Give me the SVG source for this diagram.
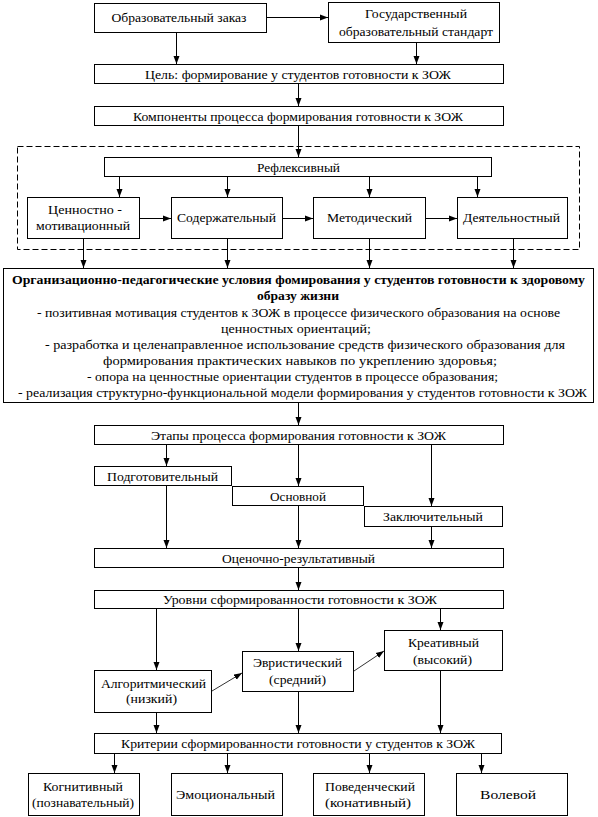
<svg xmlns="http://www.w3.org/2000/svg" width="598" height="817" viewBox="0 0 598 817">
<style>
.b{fill:#fff;stroke:#000;stroke-width:1}
.d{fill:none;stroke:#000;stroke-width:1;stroke-dasharray:6 3}
text{font-family:"Liberation Serif","Times New Roman",serif;font-size:13.5px;fill:#000;text-anchor:middle}
.bold{font-weight:bold}
.c line{stroke:#000;stroke-width:1;marker-end:url(#ah)}
.c line.t{stroke-width:0.8}
</style>
<defs>
<marker id="ah" markerUnits="userSpaceOnUse" markerWidth="8" markerHeight="7" refX="8" refY="3.5" orient="auto">
<path d="M0,0.5 L8,3.5 L0,6.5 z" fill="#000"/>
</marker>
</defs>
<rect width="598" height="817" fill="#fff"/>
<rect class="d" x="17.5" y="146.5" width="562" height="103"/>
<g class="c">
<line x1="267" y1="17.5" x2="328" y2="17.5"/>
<line x1="176.5" y1="33" x2="176.5" y2="64"/>
<line x1="416.5" y1="43" x2="416.5" y2="64"/>
<line x1="298.5" y1="84" x2="298.5" y2="106"/>
<line x1="298.5" y1="126" x2="298.5" y2="157"/>
<line x1="119.5" y1="177" x2="119.5" y2="197"/>
<line x1="227.5" y1="177" x2="227.5" y2="197"/>
<line x1="369.5" y1="177" x2="369.5" y2="197"/>
<line x1="477.5" y1="177" x2="477.5" y2="197"/>
<line x1="140" y1="218.5" x2="171" y2="218.5"/>
<line x1="283" y1="218.5" x2="313" y2="218.5"/>
<line x1="426" y1="218.5" x2="457" y2="218.5"/>
<line x1="83.5" y1="239" x2="83.5" y2="268"/>
<line x1="227.5" y1="239" x2="227.5" y2="268"/>
<line x1="369.5" y1="239" x2="369.5" y2="268"/>
<line x1="513.5" y1="239" x2="513.5" y2="268"/>
<line x1="298.5" y1="403" x2="298.5" y2="425"/>
<line x1="166.5" y1="445" x2="166.5" y2="466"/>
<line x1="298.5" y1="445" x2="298.5" y2="486"/>
<line x1="431.5" y1="445" x2="431.5" y2="506"/>
<line x1="166.5" y1="486" x2="166.5" y2="548"/>
<line x1="298.5" y1="506" x2="298.5" y2="548"/>
<line x1="431.5" y1="527" x2="431.5" y2="548"/>
<line x1="298.5" y1="568" x2="298.5" y2="590"/>
<line x1="156.5" y1="609" x2="156.5" y2="670"/>
<line x1="298.5" y1="609" x2="298.5" y2="651"/>
<line x1="440.5" y1="609" x2="440.5" y2="630"/>
<line class="t" x1="212" y1="691" x2="242" y2="673"/>
<line class="t" x1="354" y1="671" x2="384" y2="651"/>
<line x1="156.5" y1="713" x2="156.5" y2="733"/>
<line x1="298.5" y1="692" x2="298.5" y2="733"/>
<line x1="440.5" y1="671" x2="440.5" y2="733"/>
<line x1="114.5" y1="754" x2="114.5" y2="773"/>
<line x1="227.5" y1="754" x2="227.5" y2="773"/>
<line x1="369.5" y1="754" x2="369.5" y2="773"/>
<line x1="481.5" y1="754" x2="481.5" y2="773"/>
</g>
<g id="zakaz"><rect class="b" x="94.5" y="3.5" width="172" height="29"/><text x="179" y="22" textLength="135" lengthAdjust="spacingAndGlyphs">Образовательный заказ</text></g>
<g id="standart"><rect class="b" x="328.5" y="2.5" width="171" height="40"/><text x="416" y="18" textLength="102" lengthAdjust="spacingAndGlyphs">Государственный</text><text x="416" y="36" textLength="154" lengthAdjust="spacingAndGlyphs">образовательный стандарт</text></g>
<g id="tsel"><rect class="b" x="94.5" y="64.5" width="409" height="19"/><text x="298" y="79" textLength="306" lengthAdjust="spacingAndGlyphs">Цель: формирование у студентов готовности к ЗОЖ</text></g>
<g id="komponenty"><rect class="b" x="94.5" y="106.5" width="409" height="19"/><text x="298" y="121" textLength="330" lengthAdjust="spacingAndGlyphs">Компоненты процесса формирования готовности к ЗОЖ</text></g>
<g id="refl"><rect class="b" x="104.5" y="157.5" width="387" height="19"/><text x="298.5" y="172" textLength="83" lengthAdjust="spacingAndGlyphs">Рефлексивный</text></g>
<g id="cennost"><rect class="b" x="27.5" y="197.5" width="112" height="41"/><text x="85" y="214" textLength="74" lengthAdjust="spacingAndGlyphs">Ценностно -</text><text x="83" y="230" textLength="94" lengthAdjust="spacingAndGlyphs">мотивационный</text></g>
<g id="soderzh"><rect class="b" x="171.5" y="197.5" width="111" height="41"/><text x="226.5" y="222" textLength="99" lengthAdjust="spacingAndGlyphs">Содержательный</text></g>
<g id="metod"><rect class="b" x="313.5" y="197.5" width="112" height="41"/><text x="369.5" y="222" textLength="85" lengthAdjust="spacingAndGlyphs">Методический</text></g>
<g id="deyat"><rect class="b" x="457.5" y="197.5" width="110" height="41"/><text x="511.5" y="222" textLength="97" lengthAdjust="spacingAndGlyphs">Деятельностный</text></g>
<g id="usloviya"><rect class="b" x="3.5" y="268.5" width="590" height="134"/>
<text class="bold" x="298.5" y="284" textLength="573" lengthAdjust="spacingAndGlyphs">Организационно-педагогические условия фомирования у студентов готовности к здоровому</text>
<text class="bold" x="298" y="300" textLength="82" lengthAdjust="spacingAndGlyphs">образу жизни</text>
<text x="298.5" y="317" textLength="523" lengthAdjust="spacingAndGlyphs">- позитивная мотивация студентов к ЗОЖ в процессе физического образования на основе</text>
<text x="296" y="333" textLength="150" lengthAdjust="spacingAndGlyphs">ценностных ориентаций;</text>
<text x="305" y="349" textLength="520" lengthAdjust="spacingAndGlyphs">- разработка и целенаправленное использование средств физического образования для</text>
<text x="300" y="365" textLength="394" lengthAdjust="spacingAndGlyphs">формирования практических навыков по укреплению здоровья;</text>
<text x="292.5" y="381" textLength="411" lengthAdjust="spacingAndGlyphs">- опора на ценностные ориентации студентов в процессе образования;</text>
<text x="302.5" y="397" textLength="569" lengthAdjust="spacingAndGlyphs">- реализация структурно-функциональной модели формирования у студентов готовности к ЗОЖ</text>
</g>
<g id="etapy"><rect class="b" x="94.5" y="425.5" width="409" height="19"/><text x="298.5" y="440" textLength="295" lengthAdjust="spacingAndGlyphs">Этапы процесса формирования готовности к ЗОЖ</text></g>
<g id="podg"><rect class="b" x="94.5" y="466.5" width="137" height="19"/><text x="162.5" y="481" textLength="111" lengthAdjust="spacingAndGlyphs">Подготовительный</text></g>
<g id="osn"><rect class="b" x="232.5" y="486.5" width="131" height="19"/><text x="298" y="501" textLength="56" lengthAdjust="spacingAndGlyphs">Основной</text></g>
<g id="zakl"><rect class="b" x="364.5" y="506.5" width="138" height="20"/><text x="433" y="521" textLength="100" lengthAdjust="spacingAndGlyphs">Заключительный</text></g>
<g id="ocen"><rect class="b" x="94.5" y="548.5" width="409" height="19"/><text x="298.5" y="563" textLength="153" lengthAdjust="spacingAndGlyphs">Оценочно-результативный</text></g>
<g id="urovni"><rect class="b" x="94.5" y="590.5" width="409" height="18"/><text x="300" y="604" textLength="274" lengthAdjust="spacingAndGlyphs">Уровни сформированности готовности к ЗОЖ</text></g>
<g id="algor"><rect class="b" x="94.5" y="670.5" width="117" height="42"/><text x="153.5" y="688" textLength="105" lengthAdjust="spacingAndGlyphs">Алгоритмический</text><text x="151.5" y="703" textLength="51" lengthAdjust="spacingAndGlyphs">(низкий)</text></g>
<g id="evr"><rect class="b" x="242.5" y="651.5" width="111" height="40"/><text x="297.5" y="667" textLength="89" lengthAdjust="spacingAndGlyphs">Эвристический</text><text x="297.5" y="684" textLength="57" lengthAdjust="spacingAndGlyphs">(средний)</text></g>
<g id="kreat"><rect class="b" x="384.5" y="630.5" width="118" height="40"/><text x="443.5" y="647" textLength="71" lengthAdjust="spacingAndGlyphs">Креативный</text><text x="442.5" y="664" textLength="59" lengthAdjust="spacingAndGlyphs">(высокий)</text></g>
<g id="kriterii"><rect class="b" x="94.5" y="733.5" width="407" height="20"/><text x="298" y="748" textLength="354" lengthAdjust="spacingAndGlyphs">Критерии сформированности готовности у студентов к ЗОЖ</text></g>
<g id="kogn"><rect class="b" x="28.5" y="773.5" width="111" height="42"/><text x="83" y="791" textLength="80" lengthAdjust="spacingAndGlyphs">Когнитивный</text><text x="83" y="807" textLength="102" lengthAdjust="spacingAndGlyphs">(познавательный)</text></g>
<g id="emoc"><rect class="b" x="171.5" y="773.5" width="111" height="42"/><text x="225.5" y="799" textLength="99" lengthAdjust="spacingAndGlyphs">Эмоциональный</text></g>
<g id="poved"><rect class="b" x="313.5" y="773.5" width="111" height="42"/><text x="370" y="791" textLength="90" lengthAdjust="spacingAndGlyphs">Поведенческий</text><text x="368" y="807" textLength="86" lengthAdjust="spacingAndGlyphs">(конативный)</text></g>
<g id="volev"><rect class="b" x="456.5" y="773.5" width="111" height="42"/><text x="508" y="799" textLength="56" lengthAdjust="spacingAndGlyphs">Волевой</text></g>
</svg>
